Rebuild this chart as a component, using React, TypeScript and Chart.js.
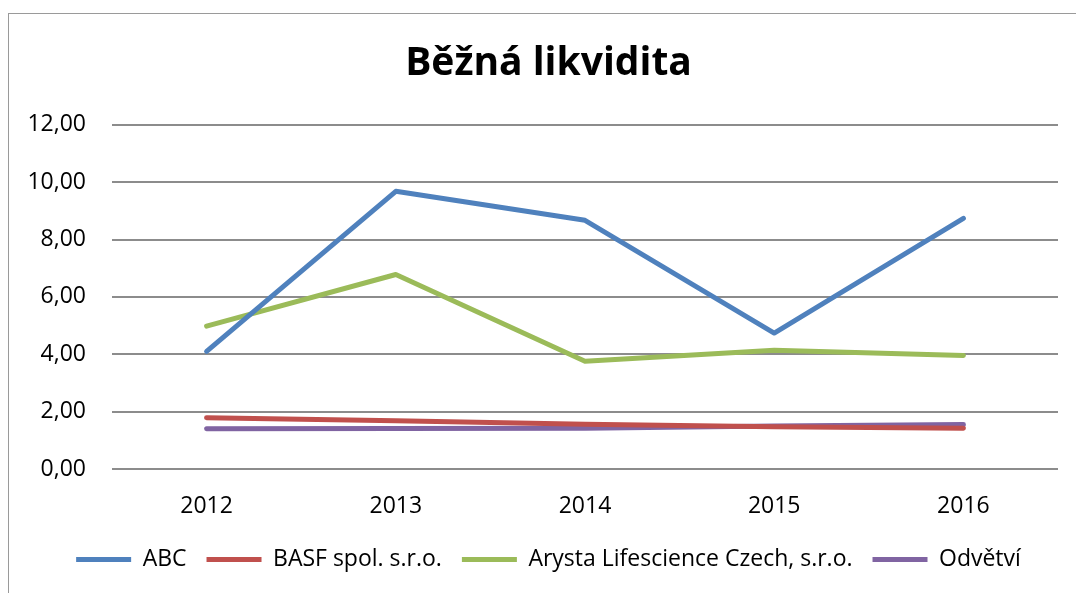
import React, { useEffect, useRef } from "react";
import { Chart, registerables } from "chart.js";

Chart.register(...registerables);

const categories = ["2012", "2013", "2014", "2015", "2016"];
const seriesNames = ["ABC", "BASF spol. s.r.o.", "Arysta Lifescience Czech, s.r.o.", "Odvětví"];
const abcValues = [4.1, 9.68, 8.67, 4.74, 8.74];
const basfValues = [1.79, 1.68, 1.56, 1.47, 1.42];
const arystaValues = [4.98, 6.78, 3.76, 4.14, 3.96];
const odvetviValues = [1.4, 1.41, 1.42, 1.5, 1.55];
const seriesColors = ["#4F81BD", "#C0504D", "#9BBB59", "#8064A2"];
const titleText = "Běžná likvidita";

const FONT = "'Open Sans', sans-serif";

const blockShift = {
  id: "blockShift",
  afterLayout(chart: any) {
    if (chart.legend) {
      chart.legend.left += 11;
      chart.legend.right += 11;
    }
    if (chart.titleBlock) {
      chart.titleBlock.left += 11;
      chart.titleBlock.right += 11;
    }
  },
};

export default function App() {
  const ref = useRef<HTMLCanvasElement | null>(null);
  useEffect(() => {
    if (!ref.current) return;
    const values = [abcValues, basfValues, arystaValues, odvetviValues];
    const chart = new Chart(ref.current, {
      type: "line",
      plugins: [blockShift],
      data: {
        labels: categories,
        datasets: seriesNames.map((name, i) => ({
          label: name,
          data: values[i],
          borderColor: seriesColors[i],
          backgroundColor: seriesColors[i],
          borderWidth: 5,
          borderCapStyle: "round" as const,
          borderJoinStyle: "round" as const,
          pointRadius: 0,
          pointHoverRadius: 0,
          tension: 0,
          fill: false,
        })),
      },
      options: {
        responsive: false,
        animation: false,
        layout: { padding: { left: 17, right: 18, top: 0, bottom: 12 } },
        plugins: {
          title: {
            display: true,
            text: titleText,
            color: "#000",
            font: { family: FONT, size: 39, weight: "bold" },
            padding: { top: 40, bottom: 38 },
          },
          legend: {
            position: "bottom",
            labels: {
              usePointStyle: true,
              pointStyle: "line",
              pointStyleWidth: 55,
              boxHeight: 20,
              color: "#000",
              font: { family: FONT, size: 23 },
              padding: 20,
            },
          },
          tooltip: { enabled: false },
        },
        scales: {
          x: {
            offset: true,
            grid: { display: false, drawTicks: false },
            border: { display: false },
            ticks: { color: "#000", font: { family: FONT, size: 23 }, padding: 24 },
            afterFit: (axis: any) => {
              axis.height = 59;
            },
          },
          y: {
            min: 0,
            max: 12,
            grid: { color: "#8C8C8C", lineWidth: 2, drawTicks: false },
            border: { display: false },
            ticks: {
              stepSize: 2,
              color: "#000",
              font: { family: FONT, size: 23 },
              padding: 26,
              callback: (v: any) => Number(v).toFixed(2).replace(".", ","),
            },
            afterFit: (axis: any) => {
              axis.width = 95;
            },
          },
        },
      },
    });
    return () => chart.destroy();
  }, []);
  return (
    <div style={{ position: "fixed", left: 0, top: 0, width: 1076, height: 593, overflow: "hidden", background: "#fff" }}>
      <div style={{ position: "absolute", left: 8, top: 13, width: 1100, height: 700, border: "1.5px solid #9A9A9A" }} />
      <canvas ref={ref} width={1076} height={593} style={{ position: "absolute", left: 0, top: 0 }} />
    </div>
  );
}
